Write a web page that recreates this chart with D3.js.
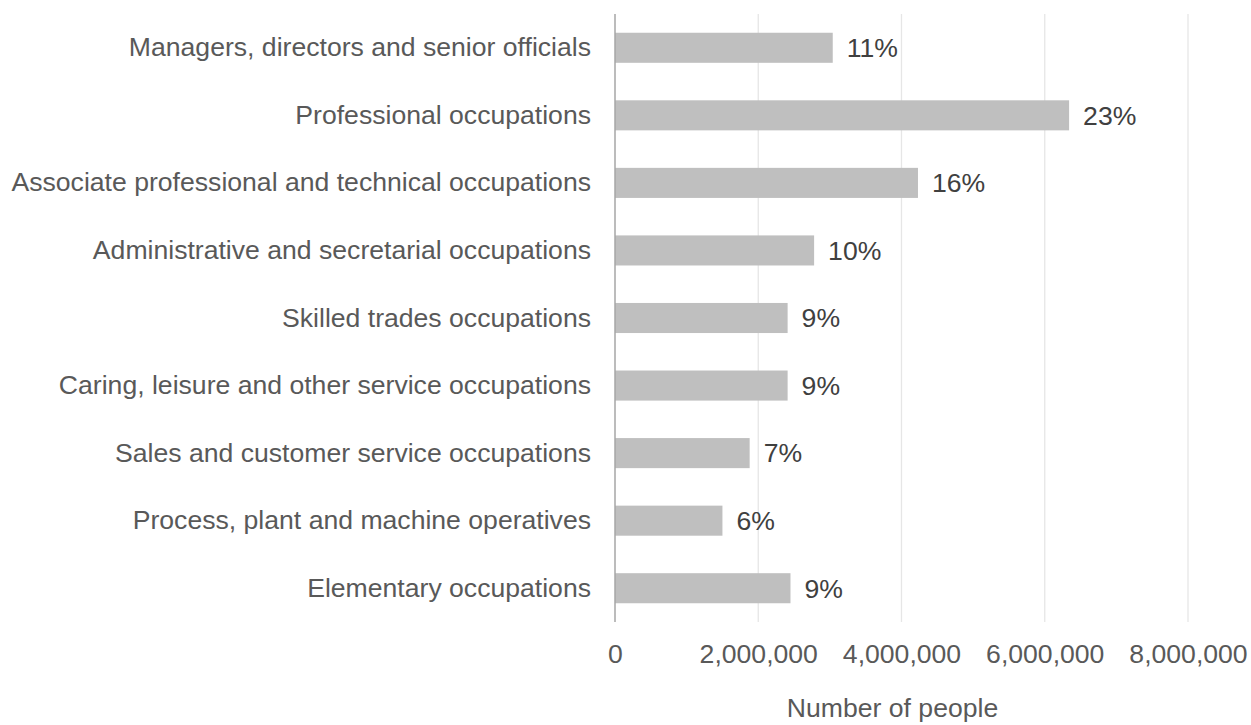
<!DOCTYPE html>
<html>
<head>
<meta charset="utf-8">
<script src="https://cdn.jsdelivr.net/npm/d3@7"></script>
<style>
  html, body { margin: 0; padding: 0; background: #ffffff; }
  svg { display: block; font-family: "Liberation Sans", Arial, sans-serif; }
</style>
</head>
<body>
<svg id="chart" width="1251" height="725"></svg>
<script>
// Occupation groups, top to bottom
const categories = [
  "Managers, directors and senior officials",
  "Professional occupations",
  "Associate professional and technical occupations",
  "Administrative and secretarial occupations",
  "Skilled trades occupations",
  "Caring, leisure and other service occupations",
  "Sales and customer service occupations",
  "Process, plant and machine operatives",
  "Elementary occupations"
];
// Number of people in each group
const people = [3040000, 6340000, 4230000, 2780000, 2410000, 2410000, 1880000, 1500000, 2450000];
// Share of the total shown beside each bar
const shareLabels = ["11%", "23%", "16%", "10%", "9%", "9%", "7%", "6%", "9%"];
const xTicks = [0, 2000000, 4000000, 6000000, 8000000];
const xTitle = "Number of people";

const fontSize = "26.6px";
const svg = d3.select("#chart");
const plotLeft = 615, plotRight = 1188, plotTop = 14, plotBottom = 622;

const x = d3.scaleLinear().domain([0, 8000000]).range([plotLeft, plotRight]);
const y = d3.scaleBand().domain(categories).range([plotTop, plotBottom]).paddingInner(0.555).paddingOuter(0.2775);

// vertical gridlines
svg.append("g")
  .selectAll("line")
  .data(xTicks.slice(1))
  .join("line")
  .attr("x1", d => x(d)).attr("x2", d => x(d))
  .attr("y1", plotTop).attr("y2", plotBottom)
  .attr("stroke", "#e6e6e6").attr("stroke-width", 1.3);

// bars
svg.append("g")
  .selectAll("rect")
  .data(people)
  .join("rect")
  .attr("x", x(0))
  .attr("y", (d, i) => y(categories[i]))
  .attr("width", d => x(d) - x(0))
  .attr("height", y.bandwidth())
  .attr("fill", "#bfbfbf");

// value axis labels
const xAxis = d3.axisBottom(x).tickValues(xTicks).tickSize(0).tickPadding(0)
  .tickFormat(d3.format(","));
const gx = svg.append("g").attr("transform", `translate(0, ${plotBottom + 41})`).call(xAxis);
gx.select(".domain").remove();
gx.selectAll("text").attr("fill", "#595959").style("font-size", fontSize)
  .attr("font-family", "Liberation Sans, Arial, sans-serif").attr("dy", "0");

// category axis
const yAxis = d3.axisLeft(y).tickSize(0).tickPadding(24);
const gy = svg.append("g").attr("transform", `translate(${plotLeft}, 0)`).call(yAxis);
gy.select(".domain").remove();
gy.selectAll("text").attr("fill", "#595959").style("font-size", fontSize)
  .attr("font-family", "Liberation Sans, Arial, sans-serif");

svg.append("line")
  .attr("x1", plotLeft).attr("x2", plotLeft)
  .attr("y1", plotTop).attr("y2", plotBottom)
  .attr("stroke", "#a6a6a6").attr("stroke-width", 1.5);

// percentage labels
svg.append("g")
  .selectAll("text")
  .data(people)
  .join("text")
  .attr("x", d => x(d) + 14)
  .attr("y", (d, i) => y(categories[i]) + y.bandwidth() / 2)
  .attr("dy", "0.35em")
  .attr("fill", "#404040")
  .style("font-size", fontSize)
  .text((d, i) => shareLabels[i]);

// axis title
svg.append("text")
  .attr("x", (plotLeft + plotRight) / 2 - 9)
  .attr("y", 717)
  .attr("text-anchor", "middle")
  .attr("fill", "#595959")
  .style("font-size", fontSize)
  .text(xTitle);
</script>
</body>
</html>
